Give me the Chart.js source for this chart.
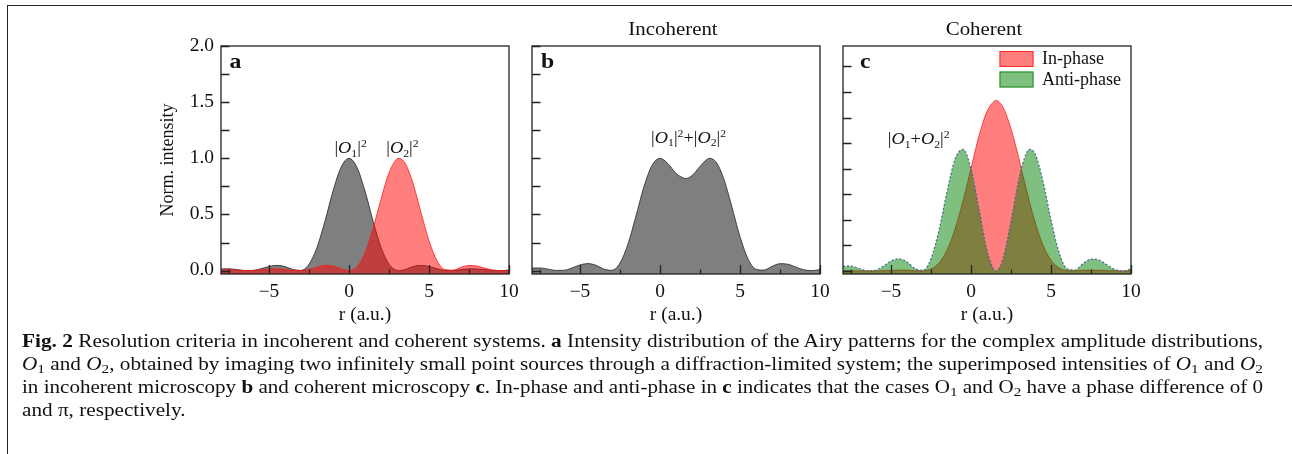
<!DOCTYPE html>
<html><head><meta charset="utf-8">
<script src="https://cdn.jsdelivr.net/npm/chart.js@4.4.0/dist/chart.umd.min.js"></script>
<style>
html,body{margin:0;padding:0;background:#fff;}
#wrap{position:relative;width:1292px;height:454px;overflow:hidden;background:#fff;}
#frame{position:absolute;left:7px;top:5px;width:1300px;height:470px;border-left:1.6px solid #222;border-top:1.6px solid #222;}
canvas{position:absolute;top:0;}
#cap{position:absolute;left:22px;top:330px;width:1241px;font-family:"Liberation Serif","Times New Roman",serif;font-size:18px;line-height:23px;color:#111;}
#cap .ln{white-space:nowrap;width:max-content;transform-origin:0 0;}
#cap .s{font-size:0.72em;vertical-align:-0.22em;line-height:0;}
</style></head>
<body><div id="wrap">
<div id="frame"></div>
<canvas id="ca" width="418" height="340" style="left:120.5px"></canvas>
<canvas id="cb" width="418" height="340" style="left:431.5px"></canvas>
<canvas id="cc" width="418" height="340" style="left:743px"></canvas>
<div id="cap">
<div class="ln"><b>Fig. 2</b> Resolution criteria in incoherent and coherent systems. <b>a</b> Intensity distribution of the Airy patterns for the complex amplitude distributions,</div>
<div class="ln"><i>O</i><span class="s">1</span> and <i>O</i><span class="s">2</span>, obtained by imaging two infinitely small point sources through a diffraction-limited system; the superimposed intensities of <i>O</i><span class="s">1</span> and <i>O</i><span class="s">2</span></div>
<div class="ln">in incoherent microscopy <b>b</b> and coherent microscopy <b>c</b>. In-phase and anti-phase in <b>c</b> indicates that the cases O<span class="s">1</span> and O<span class="s">2</span> have a phase difference of 0</div>
<div class="ln last">and π, respectively.</div>
</div>
</div>
<script>
// ---- data ----
const r = [-8,-7.5,-7,-6.5,-6,-5.5,-5,-4.5,-4,-3.5,-3,-2.5,-2,-1.5,-1,-0.5,0,0.5,1,1.5,1.57,2,2.5,3,3.14,3.5,3.64,4,4.5,5,5.5,6,6.5,7,7.5,8,8.5,9,9.5,10];
const O1 = [0.015,0.016,0.009,0.001,0.002,0.017,0.037,0.047,0.036,0.010,0.002,0.057,0.207,0.442,0.708,0.919,1.000,0.919,0.708,0.442,0.406,0.207,0.057,0.002,0.000,0.010,0.017,0.036,0.047,0.037,0.017,0.002,0.001,0.009,0.016,0.015,0.009,0.002,0.000,0.003];
const O2 = [0.008,0.008,0.004,0.001,0.001,0.007,0.014,0.016,0.011,0.003,0.001,0.011,0.031,0.046,0.041,0.017,0.000,0.033,0.155,0.370,0.406,0.635,0.871,0.994,1.000,0.958,0.919,0.777,0.517,0.266,0.089,0.009,0.004,0.029,0.046,0.041,0.022,0.005,0.000,0.006];
const incoherent = [0.023,0.024,0.013,0.002,0.003,0.024,0.051,0.063,0.047,0.013,0.003,0.068,0.238,0.488,0.749,0.937,1.000,0.952,0.866,0.822,0.820,0.846,0.928,0.996,1.000,0.968,0.937,0.812,0.564,0.302,0.106,0.012,0.005,0.038,0.062,0.057,0.031,0.007,0.000,0.009];
const inPhase = [0.001,0.001,0.001,0.000,0.000,0.002,0.005,0.008,0.007,0.002,0.001,0.018,0.077,0.203,0.408,0.685,1.001,1.320,1.560,1.665,1.668,1.600,1.390,1.095,1.001,0.772,0.685,0.479,0.252,0.105,0.029,0.003,0.001,0.006,0.008,0.006,0.003,0.001,0.000,0.001];
const antiPhase = [0.045,0.046,0.025,0.003,0.006,0.044,0.096,0.119,0.087,0.023,0.005,0.120,0.399,0.774,1.091,1.189,0.999,0.604,0.201,0.003,0.000,0.117,0.481,0.902,0.999,1.164,1.189,1.146,0.877,0.500,0.182,0.021,0.010,0.070,0.116,0.107,0.059,0.013,0.000,0.018];
const xTickLabels = [-5,0,5,10];
const yTickLabels = [0,0.5,1,1.5,2];

// ---- helpers ----
const F = '"Liberation Serif","Times New Roman",serif';
const H = 340, PT = 46, PB = 274;
const SX = 1.08; // horizontal text stretch seen in the figure
const pts = ys => r.map((x,i)=>({x, y: ys[i]}));

function stext(ctx, t, x, y, align, sx){
  ctx.save(); ctx.translate(x, y); ctx.scale(sx||SX, 1);
  ctx.textAlign = align; ctx.fillText(t, 0, 0); ctx.restore();
}
function rich(ctx, segs, cx, cy, size){
  const parts = segs.map(([k,t])=>{
    const small = (k==='sub'||k==='sup');
    const fs = small ? size*0.64 : size;
    const font = (k==='i'?'italic ':'') + fs + 'px ' + F;
    ctx.font = font;
    return {t, font, w: ctx.measureText(t).width, dy: k==='sub'? size*0.22 : (k==='sup'? -size*0.36 : 0)};
  });
  const W = parts.reduce((s,p)=>s+p.w,0);
  ctx.save(); ctx.translate(cx, cy); ctx.scale(SX, 1);
  let x = -W/2;
  ctx.textAlign='left'; ctx.textBaseline='alphabetic';
  for (const p of parts){ ctx.font=p.font; ctx.fillText(p.t, x, size*0.34 + p.dy); x += p.w; }
  ctx.restore();
}

const decor = {
  id:'decor',
  afterDraw(chart, args, o){
    const ctx = chart.ctx, a = chart.chartArea, xs = chart.scales.x, ys = chart.scales.y;
    ctx.save();
    ctx.strokeStyle = '#222'; ctx.lineWidth = 1.3;
    ctx.strokeRect(a.left, a.top, a.right-a.left, a.bottom-a.top);
    ctx.beginPath();
    for (let v=0; v<=ys.max+1e-9; v+=0.25){ const y=Math.round(ys.getPixelForValue(v))+0.5; ctx.moveTo(a.left,y); ctx.lineTo(a.left+8.5,y); }
    for (let v=-7.5; v<=10+1e-9; v+=2.5){ const x=Math.round(xs.getPixelForValue(v))+0.5; const len=(Math.abs(v%5)<1e-9)?9:4.5; ctx.moveTo(x,a.bottom); ctx.lineTo(x,a.bottom-len); }
    ctx.stroke();
    ctx.fillStyle = '#111';
    ctx.textBaseline='middle';
    // tick labels
    ctx.font = '18px ' + F;
    for (const v of xTickLabels){ stext(ctx, v<0 ? '\u2212'+Math.abs(v) : String(v), xs.getPixelForValue(v), a.bottom + 18, 'center'); }
    if (o.ylabels){ for (const v of yTickLabels){ stext(ctx, v.toFixed(1), a.left - 7, ys.getPixelForValue(v), 'right'); } }
    // panel letter
    ctx.font = 'bold 22px ' + F;
    stext(ctx, o.letter, a.left + o.letterDx, a.top + 16, 'left');
    // axis titles
    ctx.font = '18px ' + F;
    stext(ctx, 'r (a.u.)', (a.left+a.right)/2, a.bottom + 41, 'center');
    if (o.ytitle){
      ctx.save(); ctx.translate(a.left - 53, (a.top+a.bottom)/2); ctx.rotate(-Math.PI/2);
      ctx.textAlign='center'; ctx.fillText(o.ytitle, 0, 0); ctx.restore();
    }
    if (o.title){ ctx.font = '19px ' + F; stext(ctx, o.title, (a.left+a.right)/2 - 3, a.top - 16, 'center', 1.1); }
    for (const L of (o.labels||[])){
      rich(ctx, L.segs, xs.getPixelForValue(L.x), ys.getPixelForValue(L.y), 17);
    }
    if (o.legend){
      o.legend.forEach((it, i) => {
        const bx = a.left + 156.5, by = a.top + 5 + i*20.5;
        ctx.fillStyle = it.fill; ctx.fillRect(bx, by, 34, 16);
        ctx.strokeStyle = it.line; ctx.lineWidth = 1; ctx.strokeRect(bx+0.5, by+0.5, 33, 15);
        ctx.fillStyle = '#111'; ctx.font = '18px ' + F; ctx.textBaseline='middle';
        stext(ctx, it.text, a.left + 199, by + 8.5, 'left', 1.0);
      });
    }
    ctx.restore();
  }
};

function makeChart(id, datasets, ymax, decorOpts){
  return new Chart(document.getElementById(id), {
    type:'line',
    data:{datasets},
    options:{
      responsive:false, animation:false, devicePixelRatio:1,
      layout:{padding:{left:0,right:30,top:PT,bottom:0}},
      plugins:{legend:{display:false}, tooltip:{enabled:false}, decor:decorOpts},
      elements:{point:{radius:0}, line:{borderWidth:1, cubicInterpolationMode:'monotone'}},
      scales:{
        x:{type:'linear', min:-8, max:10,
           grid:{display:false, drawTicks:false}, border:{display:false},
           afterBuildTicks: s => { s.ticks = xTickLabels.map(v=>({value:v})); },
           afterFit: s => { s.height = H - PB; },
           ticks:{display:false}},
        y:{type:'linear', min:-0.03, max:ymax,
           grid:{display:false, drawTicks:false}, border:{display:false},
           afterBuildTicks: s => { s.ticks = yTickLabels.map(v=>({value:v})); },
           afterFit: s => { s.width = 100; },
           ticks:{display:false}}
      }
    },
    plugins:[decor]
  });
}

const red = {borderColor:'rgba(255,20,20,0.75)', backgroundColor:'rgba(255,0,0,0.5)'};
const gray = {borderColor:'rgba(40,40,40,0.8)', backgroundColor:'rgba(0,0,0,0.5)'};
const green = {borderColor:'rgba(60,100,140,0.9)', backgroundColor:'rgba(0,128,0,0.5)', borderDash:[2,2], borderWidth:1.3};

const O1seg = [['n','|'],['i','O'],['sub','1'],['n','|'],['sup','2']];
const O2seg = [['n','|'],['i','O'],['sub','2'],['n','|'],['sup','2']];

makeChart('ca', [
  Object.assign({label:'|O2|²', data:pts(O2), fill:'start'}, red),
  Object.assign({label:'|O1|²', data:pts(O1), fill:'start'}, gray)
], 2.0, {ylabels:true, letter:'a', letterDx:8.5, ytitle:'Norm. intensity',
  labels:[{x:0.1, y:1.1, segs:O1seg},{x:3.34, y:1.1, segs:O2seg}]});

makeChart('cb', [
  Object.assign({label:'|O1|²+|O2|²', data:pts(incoherent), fill:'start'}, gray)
], 2.0, {letter:'b', letterDx:9, title:'Incoherent',
  labels:[{x:1.79, y:1.19, segs:[...O1seg, ['n','+'], ...O2seg]}]});

makeChart('cc', [
  Object.assign({label:'Anti-phase', data:pts(antiPhase), fill:'start'}, green),
  Object.assign({label:'In-phase', data:pts(inPhase), fill:'start'}, red)
], 2.2, {letter:'c', letterDx:17, title:'Coherent',
  labels:[{x:-3.27, y:1.3, segs:[['n','|'],['i','O'],['sub','1'],['n','+'],['i','O'],['sub','2'],['n','|'],['sup','2']]}],
  legend:[{text:'In-phase', fill:'rgba(255,0,0,0.5)', line:'rgba(255,20,20,0.8)'},
          {text:'Anti-phase', fill:'rgba(0,128,0,0.5)', line:'rgba(0,128,0,0.8)'}]});

// caption: stretch each full line to the text block width
(function(){
  const lines = document.querySelectorAll('#cap .ln');
  const W = 1241; let ss = [];
  lines.forEach(el => { if (!el.classList.contains('last')) { const s = W / el.getBoundingClientRect().width; ss.push(s); el.style.transform = 'scaleX(' + s + ')'; } });
  const avg = ss.reduce((p,c)=>p+c,0)/ss.length;
  lines.forEach(el => { if (el.classList.contains('last')) el.style.transform = 'scaleX(' + avg + ')'; });
})();
</script>
</body></html>
